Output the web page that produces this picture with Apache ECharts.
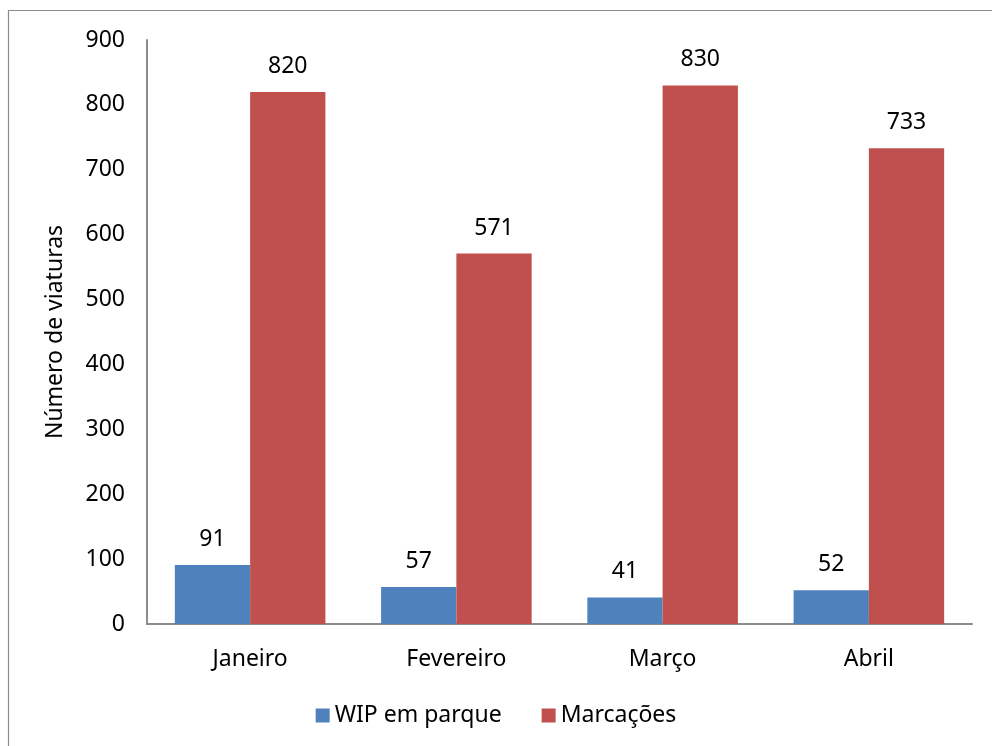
<!DOCTYPE html>
<html>
<head>
<meta charset="utf-8">
<style>
  html, body { margin: 0; padding: 0; background: #ffffff; }
  #chart { width: 992px; height: 746px; }
</style>
<script src="https://cdn.jsdelivr.net/npm/echarts@6/dist/echarts.min.js"></script>
</head>
<body>
<div id="chart"></div>
<script>
// Monthly vehicle counts
const months = ['Janeiro', 'Fevereiro', 'Março', 'Abril'];
const wipEmParque = [91, 57, 41, 52];
const marcacoes = [820, 571, 830, 733];
const yTicks = { min: 0, max: 900, interval: 100 };

const FONT = '"Noto Sans", "Open Sans", sans-serif';
const TXT = '#000000';
const FS = 23;

const chart = echarts.init(document.getElementById('chart'), null, { renderer: 'canvas' });

const labelStyle = {
  show: true,
  position: 'top',
  distance: 14,
  color: TXT,
  fontFamily: FONT,
  fontSize: FS
};

chart.setOption({
  animation: false,
  backgroundColor: '#ffffff',
  textStyle: { fontFamily: FONT },
  graphic: [{
    type: 'rect',
    shape: { x: 8.5, y: 10.5, width: 1000, height: 800 },
    style: { fill: 'none', stroke: '#8c8c8c', lineWidth: 1.2 },
    silent: true,
    z: -1
  }],
  grid: { left: 147, right: 20, top: 40, bottom: 122, containLabel: false },
  legend: {
    bottom: 14,
    left: 'center',
    itemWidth: 14,
    itemHeight: 14,
    itemGap: 40,
    icon: 'rect',
    textStyle: { color: TXT, fontFamily: FONT, fontSize: FS },
    data: ['WIP em parque', 'Marcações']
  },
  xAxis: {
    type: 'category',
    data: months,
    axisLine: { lineStyle: { color: '#8c8c8c', width: 2 } },
    axisTick: { show: false },
    axisLabel: { color: TXT, fontFamily: FONT, fontSize: FS, margin: 24 }
  },
  yAxis: {
    type: 'value',
    min: yTicks.min,
    max: yTicks.max,
    interval: yTicks.interval,
    name: 'Número de viaturas',
    nameLocation: 'middle',
    nameGap: 80,
    nameRotate: 90,
    nameTextStyle: { color: TXT, fontFamily: FONT, fontSize: FS },
    axisLine: { show: true, lineStyle: { color: '#8c8c8c', width: 2 } },
    axisTick: { show: false },
    splitLine: { show: false },
    axisLabel: { color: TXT, fontFamily: FONT, fontSize: FS, margin: 22 }
  },
  series: [
    {
      name: 'WIP em parque',
      type: 'bar',
      data: wipEmParque,
      barGap: '0%',
      barCategoryGap: '27%',
      itemStyle: { color: '#4f81bd' },
      label: labelStyle
    },
    {
      name: 'Marcações',
      type: 'bar',
      data: marcacoes,
      barGap: '0%',
      barCategoryGap: '27%',
      itemStyle: { color: '#c0504d' },
      label: labelStyle
    }
  ]
});
</script>
</body>
</html>
